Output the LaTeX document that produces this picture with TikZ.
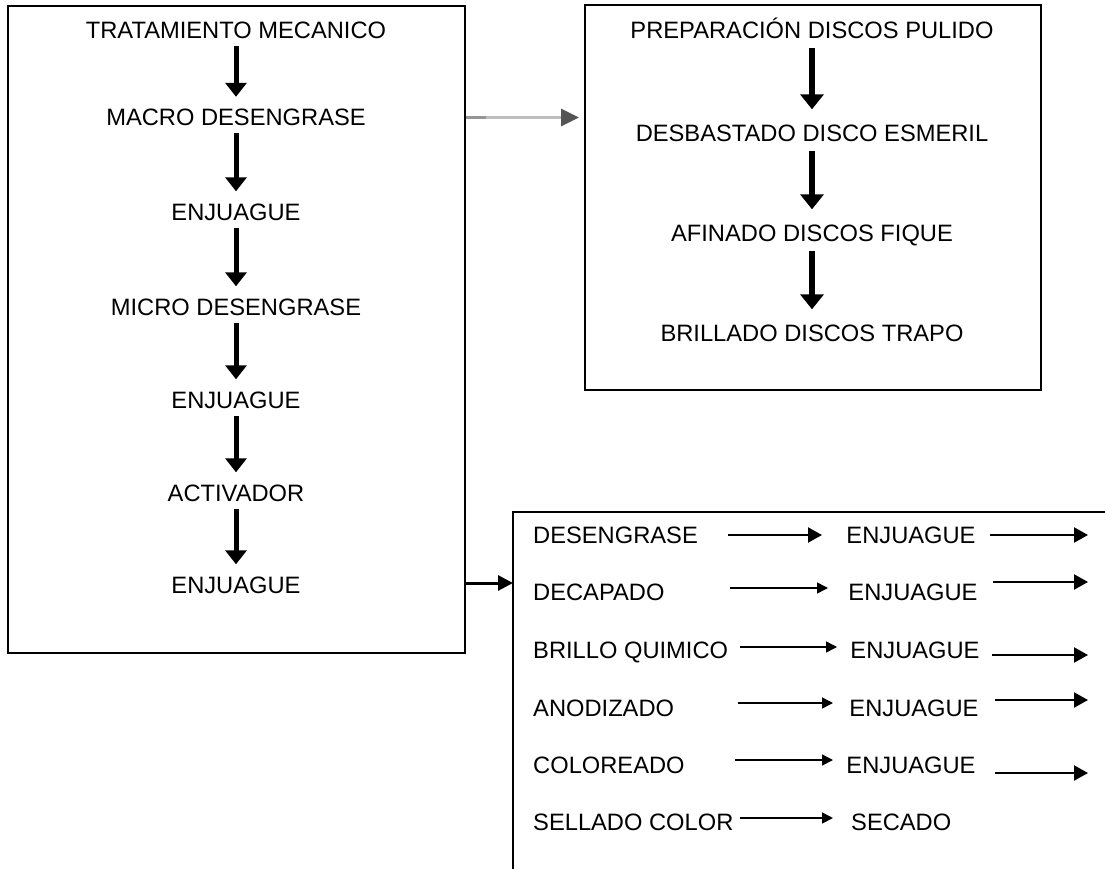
\documentclass[tikz,border=0pt]{standalone}
\usepackage{fontspec}
\setmainfont{Liberation Sans}
\usetikzlibrary{arrows.meta}
\definecolor{lgray}{RGB}{190,190,190}
\definecolor{mgray}{RGB}{150,150,150}
\definecolor{dgray}{RGB}{85,85,85}
\begin{document}
\begin{tikzpicture}[x=1pt,y=-1pt,
  lbl/.style={font=\fontsize{23.7}{28}\selectfont, inner sep=0pt, text height=17pt, text depth=0pt},
  boxln/.style={draw, line width=2pt, inner sep=0pt},
  varrL/.style={line width=5pt, -{Triangle[length=14pt,width=21pt]}, shorten <=7pt, shorten >=12pt},
  varrR/.style={line width=5.5pt, -{Triangle[length=15pt,width=23pt]}, shorten <=9pt, shorten >=15pt},
  harr/.style={line width=2.2pt, -{Triangle[length=14pt,width=15pt]}},
  tharr/.style={line width=1.6pt, -{Triangle[length=11pt,width=11pt]}}]
\useasboundingbox (0,0) rectangle (1105,869);

% boxes
\node[boxln, minimum width=457pt, minimum height=647pt] (L) at (236.5,329.5) {};
\node[boxln, minimum width=456pt, minimum height=385pt] (R) at (813,197.5) {};
\draw[line width=2pt] (1106,512) -- (513,512) -- (513,870);
\coordinate (Bw) at (513,583);

% left column
\node[lbl] (l1) at (236,30) {TRATAMIENTO MECANICO};
\node[lbl] (l2) at (236,117.5) {MACRO DESENGRASE};
\node[lbl] (l3) at (236,212) {ENJUAGUE};
\node[lbl] (l4) at (236,307) {MICRO DESENGRASE};
\node[lbl] (l5) at (236,400) {ENJUAGUE};
\node[lbl] (l6) at (236,493) {ACTIVADOR};
\node[lbl] (l7) at (236,585) {ENJUAGUE};
\foreach \a/\b in {l1/l2,l2/l3,l3/l4,l4/l5,l5/l6,l6/l7}
  \draw[varrL] (\a.south) -- (\b.north);

% right column
\node[lbl] (r1) at (812,30) {PREPARACIÓN DISCOS PULIDO};
\node[lbl] (r2) at (812,133) {DESBASTADO DISCO ESMERIL};
\node[lbl] (r3) at (812,233) {AFINADO DISCOS FIQUE};
\node[lbl] (r4) at (812,333) {BRILLADO DISCOS TRAPO};
\foreach \a/\b in {r1/r2,r2/r3,r3/r4}
  \draw[varrR] (\a.south) -- (\b.north);

% connectors between boxes
\draw[line width=3pt, lgray, -{Triangle[length=18pt,width=17pt,color=dgray]}, shorten >=5pt] (L.east |- l2) -- (R.west |- l2);
\draw[line width=3pt, mgray] (L.east |- l2) -- ++(20,0);
\draw[line width=3pt, -{Triangle[length=15pt,width=15pt]}] (L.east |- Bw) -- (Bw);

% bottom box rows
\node[lbl, anchor=west] (b1) at (533,535) {DESENGRASE};
\node[lbl, anchor=west] (b2) at (533,592) {DECAPADO};
\node[lbl, anchor=west] (b3) at (533,650) {BRILLO QUIMICO};
\node[lbl, anchor=west] (b4) at (533,708) {ANODIZADO};
\node[lbl, anchor=west] (b5) at (533,765) {COLOREADO};
\node[lbl, anchor=west] (b6) at (533,822) {SELLADO COLOR};
\node[lbl] (e1) at (911,535) {ENJUAGUE};
\node[lbl] (e2) at (913,592) {ENJUAGUE};
\node[lbl] (e3) at (915,650) {ENJUAGUE};
\node[lbl] (e4) at (914,708) {ENJUAGUE};
\node[lbl] (e5) at (911,765) {ENJUAGUE};
\node[lbl, anchor=west] (e6) at (851,822) {SECADO};

% arrow end points
\coordinate (p1s) at (728,535); \coordinate (p1e) at (822,535);
\coordinate (q1s) at (990,535); \coordinate (q1e) at (1088,535);
\coordinate (p2s) at (730,588); \coordinate (p2e) at (828,588);
\coordinate (q2s) at (993,582); \coordinate (q2e) at (1088,582);
\coordinate (p3s) at (740,647); \coordinate (p3e) at (837,647);
\coordinate (q3s) at (992,655); \coordinate (q3e) at (1088,655);
\coordinate (p4s) at (738,703); \coordinate (p4e) at (833,703);
\coordinate (q4s) at (995,700); \coordinate (q4e) at (1088,700);
\coordinate (p5s) at (735,760); \coordinate (p5e) at (833,760);
\coordinate (q5s) at (995,773); \coordinate (q5e) at (1088,773);
\coordinate (p6s) at (740,818); \coordinate (p6e) at (833,818);

\draw[harr] (p1s) -- (p1e);
\draw[harr] (q1s) -- (q1e);
\foreach \i in {2,...,6} \draw[tharr] (p\i s) -- (p\i e);
\foreach \i in {2,...,5} \draw[harr] (q\i s) -- (q\i e);
\end{tikzpicture}
\end{document}
